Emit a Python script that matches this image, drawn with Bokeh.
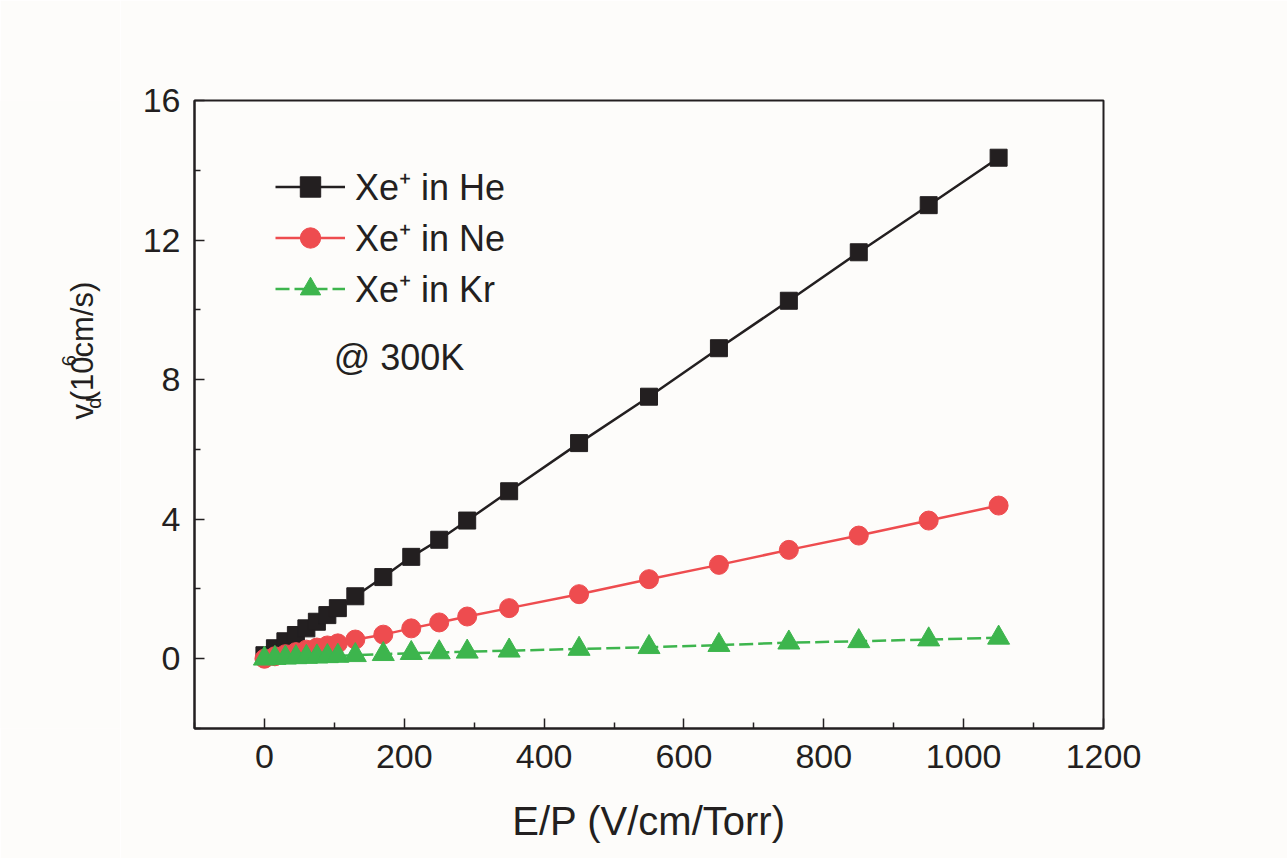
import math
from bokeh.plotting import figure
from bokeh.layouts import row
from bokeh.models import Range1d, Legend, LegendItem, Label, FixedTicker
from bokeh.core.properties import value
from bokeh.embed import file_html
from bokeh.resources import INLINE

# ---- data ----
ep = [0, 15, 30, 45, 60, 75, 90, 105, 130, 170, 210, 250, 290, 350,
      450, 550, 650, 750, 850, 950, 1050]
vd_he = [0.10, 0.30, 0.50, 0.68, 0.87, 1.06, 1.25, 1.45, 1.79, 2.34, 2.92,
         3.41, 3.96, 4.80, 6.18, 7.51, 8.90, 10.26, 11.65, 13.00, 14.36]
vd_ne = [0.00, 0.07, 0.13, 0.19, 0.26, 0.32, 0.38, 0.44, 0.55, 0.69, 0.87,
         1.04, 1.21, 1.45, 1.85, 2.28, 2.69, 3.12, 3.53, 3.96, 4.39]
vd_kr = [0.00, 0.02, 0.03, 0.04, 0.05, 0.06, 0.07, 0.08, 0.10, 0.13, 0.16,
         0.18, 0.20, 0.23, 0.28, 0.33, 0.39, 0.46, 0.50, 0.55, 0.60]
series_names = ["Xe\u207a in He", "Xe\u207a in Ne", "Xe\u207a in Kr"]
x_ticks = [0, 200, 400, 600, 800, 1000, 1200]
y_ticks = [0, 4, 8, 12, 16]
note_text = "@ 300K"
x_title = "E/P (V/cm/Torr)"
y_title_parts = ["v", "d", "(10", "6", "cm/s)"]

FONT = "Liberation Sans"
BG = "#fdfcfa"
BLACK = "#231f20"
RED = "#ee4c4f"
GREEN = "#3db54d"

LEFT_W = 120

# ---- narrow strip that carries the y-axis title (pixel coordinates) ----
lab = figure(width=LEFT_W, height=858, output_backend="svg", toolbar_location=None,
             x_range=Range1d(0, LEFT_W), y_range=Range1d(858, 0),
             x_axis_type=None, y_axis_type=None, min_border=0)
lab.background_fill_color = BG
lab.border_fill_color = BG
lab.outline_line_color = None
lab.xgrid.visible = False
lab.ygrid.visible = False
yt_x = [82, 93, 82, 68, 82]
yt_y = [436, 421, 411, 363, 351]
yt_fs = ["31px", "20px", "31px", "20px", "31px"]
for txt, xx, yy, fs in zip(y_title_parts, yt_x, yt_y, yt_fs):
    lab.text(x=[xx], y=[yy], text=[txt], angle=math.pi / 2,
             text_font=value(FONT), text_font_size=value(fs), text_color=BLACK,
             text_align="left", text_baseline="middle")

# ---- main plot ----
p = figure(width=1287 - LEFT_W, height=858, output_backend="svg", toolbar_location=None,
           x_range=Range1d(-100, 1200), y_range=Range1d(-2, 16),
           min_border_left=194 - LEFT_W, min_border_right=184, min_border_top=100,
           min_border_bottom=130)
p.background_fill_color = BG
p.border_fill_color = BG
p.outline_line_color = BLACK
p.outline_line_width = 2
p.xgrid.visible = False
p.ygrid.visible = False

for ax in (p.xaxis[0], p.yaxis[0]):
    ax.axis_line_color = BLACK
    ax.axis_line_width = 2
    ax.major_tick_in = 10
    ax.major_tick_out = 0
    ax.minor_tick_in = 6
    ax.minor_tick_out = 0
    ax.major_tick_line_color = BLACK
    ax.minor_tick_line_color = BLACK
    ax.major_tick_line_width = 1.5
    ax.minor_tick_line_width = 1.5
    ax.major_label_text_font = FONT
    ax.major_label_text_color = BLACK

p.xaxis.ticker = FixedTicker(ticks=x_ticks, minor_ticks=[-100, 100, 300, 500, 700, 900, 1100])
p.yaxis.ticker = FixedTicker(ticks=y_ticks, minor_ticks=[-2, 2, 6, 10, 14])
p.xaxis.major_label_text_font_size = "34px"
p.yaxis.major_label_text_font_size = "34px"
p.xaxis.major_label_standoff = 16
p.yaxis.major_label_standoff = 14
p.xaxis.axis_label = x_title
p.xaxis.axis_label_text_font = FONT
p.xaxis.axis_label_text_font_size = "40px"
p.xaxis.axis_label_text_font_style = "normal"
p.xaxis.axis_label_text_color = BLACK
p.xaxis.axis_label_standoff = 28

# series
r_he_l = p.line(ep, vd_he, line_color=BLACK, line_width=2.5)
r_he_m = p.scatter(ep, vd_he, marker="square", size=17, fill_color=BLACK, line_color=BLACK)
r_ne_l = p.line(ep, vd_ne, line_color=RED, line_width=2.5)
r_ne_m = p.scatter(ep, vd_ne, marker="circle", size=19, fill_color=RED, line_color=RED)
r_kr_l = p.line(ep, vd_kr, line_color=GREEN, line_width=2.5, line_dash="14 5")
r_kr_m = p.scatter(ep, vd_kr, marker="triangle", size=22, fill_color=GREEN, line_color=GREEN)

legend = Legend(items=[
    LegendItem(label=series_names[0], renderers=[r_he_l, r_he_m]),
    LegendItem(label=series_names[1], renderers=[r_ne_l, r_ne_m]),
    LegendItem(label=series_names[2], renderers=[r_kr_l, r_kr_m]),
], location=(81, 414), padding=0, margin=0, spacing=0,
   glyph_width=70, glyph_height=51, label_standoff=10,
   label_text_font=FONT, label_text_font_size="36px", label_text_color=BLACK,
   border_line_color=None, background_fill_alpha=0)
p.add_layout(legend)

p.add_layout(Label(x=99, y=8.64, text=note_text, text_font=FONT, text_font_size="36px",
                   text_color=BLACK, text_align="left", text_baseline="middle"))

layout = row(lab, p, spacing=0)
open("out.html", "w").write(file_html(layout, INLINE))
